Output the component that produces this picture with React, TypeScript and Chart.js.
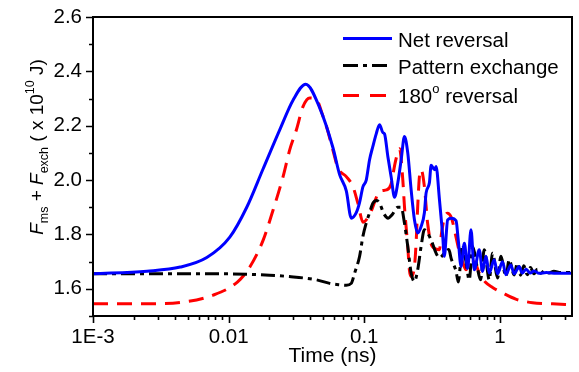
import React, { useEffect, useRef } from 'react';
import { Chart, registerables } from 'chart.js';

Chart.register(...registerables);

const FONT = '"Liberation Sans", Arial, Helvetica, sans-serif';

// [time (ns), value (x 1e10 J)]
const netReversal: [number, number][] = [
  [0.001, 1.655], [0.0025, 1.665], [0.0044, 1.68], [0.0069, 1.715], [0.0102, 1.79],
  [0.0136, 1.9], [0.0179, 2.04], [0.0238, 2.185], [0.0299, 2.295], [0.037, 2.353],
  [0.0469, 2.266], [0.0587, 2.12], [0.0658, 2.02], [0.0737, 1.96], [0.0802, 1.86],
  [0.0873, 1.88], [0.0923, 1.917], [0.0977, 1.975], [0.1034, 2.0], [0.1094, 2.075],
  [0.1157, 2.124], [0.1225, 2.17], [0.1296, 2.204], [0.137, 2.175], [0.141, 2.17],
  [0.1492, 2.087], [0.158, 2.01], [0.1671, 1.937], [0.1767, 1.99], [0.1871, 2.075],
  [0.1978, 2.16], [0.2092, 2.1], [0.2216, 1.964], [0.2343, 1.854], [0.2477, 1.805],
  [0.2624, 1.829], [0.2775, 1.88], [0.2857, 1.953], [0.3021, 1.99], [0.311, 2.055],
  [0.329, 2.038], [0.3384, 2.05], [0.358, 1.93], [0.378, 1.8], [0.389, 1.72],
  [0.412, 1.854], [0.438, 1.86], [0.475, 1.85], [0.493, 1.78], [0.517, 1.682],
  [0.547, 1.768], [0.578, 1.675], [0.612, 1.817], [0.647, 1.67], [0.704, 1.744],
  [0.745, 1.664], [0.789, 1.72], [0.834, 1.658], [0.908, 1.707], [0.96, 1.655],
  [1.045, 1.7], [1.107, 1.652], [1.204, 1.688], [1.274, 1.655], [1.387, 1.682],
  [1.459, 1.658], [1.56, 1.672], [1.67, 1.658], [1.787, 1.666], [1.944, 1.657],
  [2.2, 1.66], [2.6, 1.657], [3.4, 1.657],
];

const patternExchange: [number, number][] = [
  [0.001, 1.655], [0.003, 1.655], [0.01, 1.655], [0.02, 1.65], [0.028, 1.645],
  [0.0444, 1.633], [0.0556, 1.62], [0.0658, 1.615], [0.0737, 1.613], [0.0802, 1.62],
  [0.0849, 1.658], [0.0923, 1.719], [0.0977, 1.793], [0.1034, 1.842], [0.1094, 1.88],
  [0.1157, 1.915], [0.124, 1.925], [0.1296, 1.915], [0.14, 1.875], [0.15, 1.86],
  [0.16, 1.872], [0.1767, 1.9], [0.1871, 1.9], [0.1978, 1.842], [0.2092, 1.756],
  [0.2216, 1.658], [0.2343, 1.627], [0.2477, 1.67], [0.2624, 1.756], [0.2775, 1.817],
  [0.311, 1.78], [0.3384, 1.731], [0.358, 1.714], [0.389, 1.73], [0.42, 1.745],
  [0.438, 1.71], [0.475, 1.665], [0.493, 1.625], [0.53, 1.762], [0.562, 1.7],
  [0.594, 1.633], [0.629, 1.756], [0.68, 1.68], [0.72, 1.633], [0.767, 1.744],
  [0.834, 1.633], [0.883, 1.731], [0.96, 1.64], [1.017, 1.72], [1.107, 1.645],
  [1.17, 1.707], [1.274, 1.651], [1.345, 1.695], [1.42, 1.65], [1.5, 1.685],
  [1.59, 1.652], [1.68, 1.678], [1.78, 1.655], [1.89, 1.672], [2.0, 1.657],
  [2.15, 1.668], [2.3, 1.658], [2.5, 1.665], [2.8, 1.66], [3.4, 1.66],
];

const reversal180: [number, number][] = [
  [0.001, 1.545], [0.0025, 1.545], [0.0044, 1.55], [0.0077, 1.577], [0.0116, 1.625],
  [0.0144, 1.682], [0.018, 1.78], [0.0213, 1.891], [0.0252, 2.013], [0.0282, 2.111],
  [0.0316, 2.185], [0.0354, 2.271], [0.0396, 2.302], [0.0444, 2.296], [0.0497, 2.234],
  [0.0526, 2.198], [0.0587, 2.11], [0.064, 2.044], [0.0737, 2.013], [0.0825, 1.976],
  [0.0897, 1.915], [0.098, 1.845], [0.11, 1.875], [0.13, 1.958], [0.146, 1.964],
  [0.157, 1.983], [0.17, 2.07], [0.182, 2.115], [0.1924, 2.0], [0.1978, 1.903],
  [0.2092, 1.756], [0.215, 1.67], [0.2216, 1.645], [0.2343, 1.682], [0.241, 1.768],
  [0.2477, 1.903], [0.255, 2.013], [0.2624, 2.038], [0.2775, 1.976], [0.293, 1.842],
  [0.317, 1.756], [0.358, 1.744], [0.37, 1.8], [0.389, 1.86], [0.41, 1.878],
  [0.44, 1.86], [0.47, 1.8], [0.5, 1.74], [0.53, 1.7], [0.562, 1.67],
  [0.61, 1.69], [0.647, 1.7], [0.704, 1.658], [0.78, 1.625], [0.883, 1.605],
  [1.045, 1.585], [1.31, 1.562], [1.74, 1.549], [2.44, 1.545], [3.4, 1.541],
];

const seriesLabels = ['Net reversal', 'Pattern exchange', '180', 'o', ' reversal'];
const seriesColors = ['#0000ff', '#000000', '#ff0000'];

const xTickValues = [
  0.001, 0.002, 0.003, 0.004, 0.005, 0.006, 0.007, 0.008, 0.009,
  0.01, 0.02, 0.03, 0.04, 0.05, 0.06, 0.07, 0.08, 0.09,
  0.1, 0.2, 0.3, 0.4, 0.5, 0.6, 0.7, 0.8, 0.9,
  1, 2, 3,
];
const xMajorTicks = [0.001, 0.01, 0.1, 1];
const xMajorLabels = ['1E-3', '0.01', '0.1', '1'];

const yTickValues = [1.5, 1.6, 1.7, 1.8, 1.9, 2.0, 2.1, 2.2, 2.3, 2.4, 2.5, 2.6];
const yMajorTicks = [1.6, 1.8, 2.0, 2.2, 2.4, 2.6];

const X_MIN = 0.001;
const X_MAX = 3.4;
const Y_MIN = 1.5;
const Y_MAX = 2.6;

const toPoints = (arr: [number, number][]) => arr.map(([x, y]) => ({ x, y }));

type Part = { t: string; size: number; italic?: boolean; dy?: number };

function drawParts(ctx: CanvasRenderingContext2D, parts: Part[], x: number, y: number) {
  let cx = x;
  for (const p of parts) {
    ctx.font = `${p.italic ? 'italic ' : ''}${p.size}px ${FONT}`;
    ctx.fillText(p.t, cx, y + (p.dy || 0));
    cx += ctx.measureText(p.t).width;
  }
  return cx - x;
}

function measureParts(ctx: CanvasRenderingContext2D, parts: Part[]) {
  let w = 0;
  for (const p of parts) {
    ctx.font = `${p.italic ? 'italic ' : ''}${p.size}px ${FONT}`;
    w += ctx.measureText(p.t).width;
  }
  return w;
}

const decorPlugin = {
  id: 'decor',
  afterDraw(chart: any) {
    const { ctx, chartArea: a, scales } = chart;
    const xs = scales.x;
    const ys = scales.y;
    ctx.save();
    // frame
    ctx.strokeStyle = '#000';
    ctx.lineWidth = 2;
    ctx.strokeRect(a.left, a.top, a.right - a.left, a.bottom - a.top);
    // ticks
    ctx.lineWidth = 1.6;
    ctx.beginPath();
    for (const v of xTickValues) {
      const px = Math.round(xs.getPixelForValue(v)) + 0.5;
      const len = xMajorTicks.includes(v) ? 7 : 4;
      ctx.moveTo(px, a.bottom);
      ctx.lineTo(px, a.bottom + len);
    }
    for (const v of yTickValues) {
      const py = Math.round(ys.getPixelForValue(v)) + 0.5;
      const len = yMajorTicks.some((m) => Math.abs(m - v) < 1e-9) ? 7 : 4;
      ctx.moveTo(a.left, py);
      ctx.lineTo(a.left - len, py);
    }
    ctx.stroke();

    ctx.fillStyle = '#000';
    ctx.textBaseline = 'alphabetic';
    ctx.textAlign = 'left';

    // x title
    ctx.font = `21px ${FONT}`;
    ctx.textAlign = 'center';
    ctx.fillText('Time (ns)', (a.left + a.right) / 2, 362);
    ctx.textAlign = 'left';

    // y title (rotated)
    const yParts: Part[] = [
      { t: 'F', size: 19, italic: true },
      { t: 'ms', size: 12.5, dy: 5 },
      { t: ' + ', size: 19 },
      { t: 'F', size: 19, italic: true },
      { t: 'exch', size: 12.5, dy: 5 },
      { t: ' ( x 10', size: 19 },
      { t: '10', size: 12.5, dy: -9 },
      { t: ' J)', size: 19 },
    ];
    const tw = measureParts(ctx, yParts);
    ctx.save();
    ctx.translate(43, 147 + tw / 2);
    ctx.rotate(-Math.PI / 2);
    drawParts(ctx, yParts, 0, 0);
    ctx.restore();

    // legend
    const lx0 = 343;
    const lx1 = 392;
    const tx = 398;
    const rows = [
      { y: 38.5, base: 46.5, color: seriesColors[0], dash: [] as number[], width: 3 },
      { y: 65.5, base: 73.5, color: seriesColors[1], dash: [15, 5, 4, 5], width: 3 },
      { y: 95.5, base: 103, color: seriesColors[2], dash: [16, 11], width: 3 },
    ];
    rows.forEach((r, i) => {
      ctx.save();
      ctx.strokeStyle = r.color;
      ctx.lineWidth = r.width;
      ctx.setLineDash(r.dash);
      ctx.beginPath();
      ctx.moveTo(lx0, r.y);
      ctx.lineTo(lx1, r.y);
      ctx.stroke();
      ctx.restore();
      ctx.fillStyle = '#000';
      if (i === 0) drawParts(ctx, [{ t: seriesLabels[0], size: 20.5 }], tx, r.base);
      if (i === 1) drawParts(ctx, [{ t: seriesLabels[1], size: 20.5 }], tx, r.base);
      if (i === 2)
        drawParts(
          ctx,
          [
            { t: seriesLabels[2], size: 20.5 },
            { t: seriesLabels[3], size: 13, dy: -10 },
            { t: seriesLabels[4], size: 20.5 },
          ],
          tx,
          r.base
        );
    });
    ctx.restore();
  },
};

export default function App() {
  const ref = useRef<HTMLCanvasElement | null>(null);

  useEffect(() => {
    if (!ref.current) return;
    const chart = new Chart(ref.current, {
      type: 'line',
      data: {
        datasets: [
          {
            label: 'Net reversal',
            data: toPoints(netReversal),
            borderColor: seriesColors[0],
            borderWidth: 3,
            pointRadius: 0,
            cubicInterpolationMode: 'monotone',
            fill: false,
          },
          {
            label: 'Pattern exchange',
            data: toPoints(patternExchange),
            borderColor: seriesColors[1],
            borderWidth: 3,
            borderDash: [14, 5, 4, 5],
            pointRadius: 0,
            cubicInterpolationMode: 'monotone',
            fill: false,
          },
          {
            label: '180° reversal',
            data: toPoints(reversal180),
            borderColor: seriesColors[2],
            borderWidth: 3,
            borderDash: [15, 9],
            pointRadius: 0,
            cubicInterpolationMode: 'monotone',
            fill: false,
          },
        ],
      },
      options: {
        animation: false,
        responsive: false,
        devicePixelRatio: 1,
        layout: { padding: { top: 17, right: 7, left: 0, bottom: 0 } },
        plugins: {
          legend: { display: false },
          tooltip: { enabled: false },
        },
        scales: {
          x: {
            type: 'logarithmic',
            min: X_MIN,
            max: X_MAX,
            afterBuildTicks: (scale: any) => {
              scale.ticks = xTickValues.map((v) => ({ value: v }));
            },
            afterFit: (scale: any) => {
              scale.height = 56;
            },
            ticks: {
              autoSkip: false,
              maxRotation: 0,
              padding: 2,
              color: '#000',
              font: { family: FONT, size: 20.5 },
              callback: (value: any) => {
                const i = xMajorTicks.indexOf(Number(value));
                return i >= 0 ? xMajorLabels[i] : '';
              },
            },
            grid: { display: true, drawOnChartArea: false, tickLength: 7, tickColor: 'rgba(0,0,0,0)' },
            border: { display: false },
          },
          y: {
            type: 'linear',
            min: Y_MIN,
            max: Y_MAX,
            afterBuildTicks: (scale: any) => {
              scale.ticks = yTickValues.map((v) => ({ value: v }));
            },
            afterFit: (scale: any) => {
              scale.width = 93;
            },
            ticks: {
              autoSkip: false,
              padding: 4,
              color: '#000',
              font: { family: FONT, size: 20.5 },
              callback: (value: any) => {
                const v = Number(value);
                return yMajorTicks.some((m) => Math.abs(m - v) < 1e-9) ? v.toFixed(1) : '';
              },
            },
            grid: { display: true, drawOnChartArea: false, tickLength: 7, tickColor: 'rgba(0,0,0,0)' },
            border: { display: false },
          },
        },
      },
      plugins: [decorPlugin],
    } as any);
    return () => chart.destroy();
  }, []);

  return (
    <div style={{ position: 'fixed', left: 0, top: 0, width: 579, height: 372, background: '#fff' }}>
      <canvas ref={ref} width={579} height={372} style={{ display: 'block', width: 579, height: 372 }} />
    </div>
  );
}
